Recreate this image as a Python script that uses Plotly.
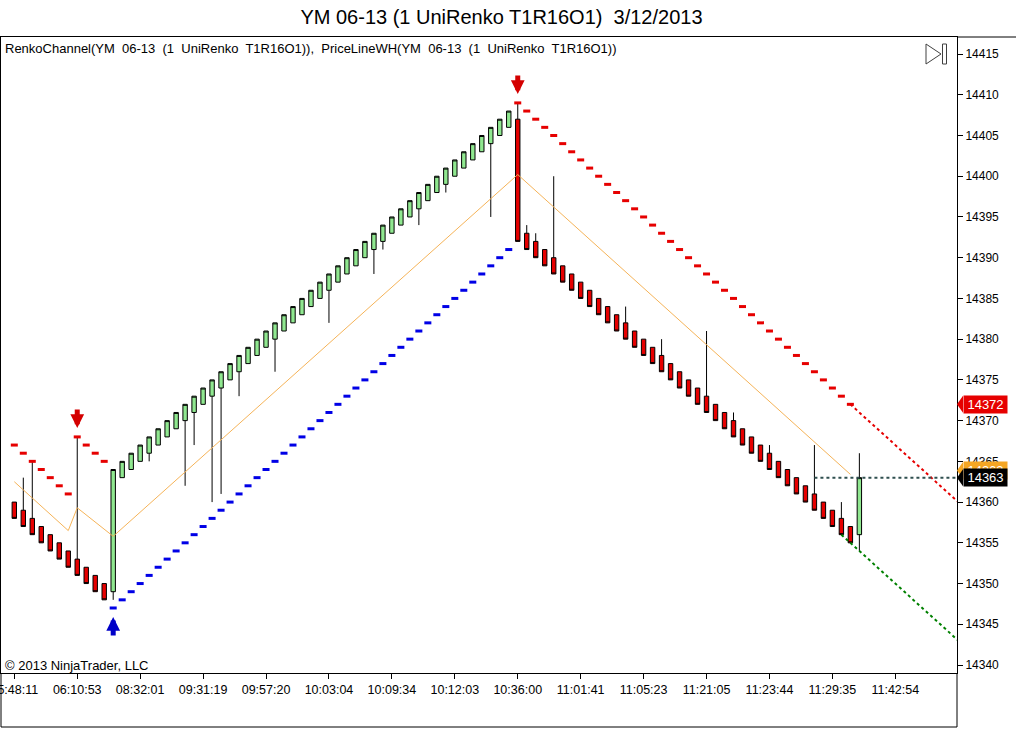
import plotly.graph_objects as go

# renko bricks: one brick per bar, the bar number is the x value
open_ = [14360, 14359, 14358, 14357, 14356, 14355, 14354, 14353, 14352, 14351, 14350,
         14349,
         14363, 14364, 14365, 14366, 14367, 14368, 14369, 14370, 14371, 14372, 14373,
         14374, 14375, 14376, 14377, 14378, 14379, 14380, 14381, 14382, 14383, 14384,
         14385, 14386, 14387, 14388, 14389, 14390, 14391, 14392, 14393, 14394, 14395,
         14396, 14397, 14398, 14399, 14400, 14401, 14402, 14403, 14404, 14405, 14406,
         14407,
         14393, 14392, 14391, 14390, 14389, 14388, 14387, 14386, 14385, 14384, 14383,
         14382, 14381, 14380, 14379, 14378, 14377, 14376, 14375, 14374, 14373, 14372,
         14371, 14370, 14369, 14368, 14367, 14366, 14365, 14364, 14363, 14362, 14361,
         14360, 14359, 14358, 14357,
         14356]
close = [14358, 14357, 14356, 14355, 14354, 14353, 14352, 14351, 14350, 14349, 14348,
         14364,
         14365, 14366, 14367, 14368, 14369, 14370, 14371, 14372, 14373, 14374, 14375,
         14376, 14377, 14378, 14379, 14380, 14381, 14382, 14383, 14384, 14385, 14386,
         14387, 14388, 14389, 14390, 14391, 14392, 14393, 14394, 14395, 14396, 14397,
         14398, 14399, 14400, 14401, 14402, 14403, 14404, 14405, 14406, 14407, 14408,
         14392,
         14391, 14390, 14389, 14388, 14387, 14386, 14385, 14384, 14383, 14382, 14381,
         14380, 14379, 14378, 14377, 14376, 14375, 14374, 14373, 14372, 14371, 14370,
         14369, 14368, 14367, 14366, 14365, 14364, 14363, 14362, 14361, 14360, 14359,
         14358, 14357, 14356, 14355,
         14363]

# wicks that stick out of the body (bar -> price)
wick_high = {1: 14363, 2: 14365, 7: 14368, 56: 14409, 57: 14394, 58: 14393, 60: 14400,
             68: 14384, 72: 14380, 77: 14381, 80: 14371, 84: 14367, 89: 14367, 92: 14360,
             94: 14366}
wick_low = {11: 14348, 15: 14365, 19: 14362, 20: 14367, 22: 14360, 23: 14361, 25: 14373,
            29: 14376, 35: 14382, 40: 14388, 41: 14391, 45: 14394, 48: 14398, 53: 14395,
            94: 14354}

# RenkoChannel
upper_channel = ([14367, 14366, 14365, 14364, 14363, 14362, 14361, 14368, 14367, 14366, 14365]
                 + [None] * 45
                 + [14409, 14408, 14407, 14406, 14405, 14404, 14403, 14402, 14401, 14400,
                    14399, 14398, 14397, 14396, 14395, 14394, 14393, 14392, 14391, 14390,
                    14389, 14388, 14387, 14386, 14385, 14384, 14383, 14382, 14381, 14380,
                    14379, 14378, 14377, 14376, 14375, 14374, 14373, 14372]
                 + [None])
lower_channel = ([None] * 11
                 + [14347, 14348, 14349, 14350, 14351, 14352, 14353, 14354, 14355, 14356,
                    14357, 14358, 14359, 14360, 14361, 14362, 14363, 14364, 14365, 14366,
                    14367, 14368, 14369, 14370, 14371, 14372, 14373, 14374, 14375, 14376,
                    14377, 14378, 14379, 14380, 14381, 14382, 14383, 14384, 14385, 14386,
                    14387, 14388, 14389, 14390, 14391]
                 + [None] * 39)
# channel projections past the last brick
upper_proj_bars = [93, 105]
upper_proj = [14372, 14360]
lower_proj_bars = [92, 105]
lower_proj = [14356, 14343]
sell_bars = [7, 56]
buy_bars = [11]

# PriceLineWH
pl_bars = [0, 6, 7, 11, 56, 93]
pl_values = [14362.5, 14356.5, 14359.3, 14355.8, 14400.2, 14363.4]
price_line_from = 89

tick_labels = ["05:48:11", "06:10:53", "08:32:01", "09:31:19", "09:57:20", "10:03:04",
               "10:09:34", "10:12:03", "10:36:00", "11:01:41", "11:05:23", "11:21:05",
               "11:23:44", "11:29:35", "11:42:54"]

bars = list(range(len(close)))
high = [wick_high.get(i, max(o, c)) for i, (o, c) in enumerate(zip(open_, close))]
low = [wick_low.get(i, min(o, c)) for i, (o, c) in enumerate(zip(open_, close))]

W, H = 1016, 729
L, R, T, B = 1, 59, 37, 56
y_range = [14339.02, 14417.09]
x_range = [-1.48, 104.86]
px_per_pt = (H - T - B) / (y_range[1] - y_range[0])
FONT = "Liberation Sans, Arial, sans-serif"


def px_x(px):
    return (px - L) / (W - L - R)


def px_y(py):
    return (H - B - py) / (H - T - B)


def dashes(values):
    xs, ys = [], []
    for i, v in enumerate(values):
        if v is None:
            continue
        xs += [i - 0.39, i + 0.39, None]
        ys += [v, v, None]
    return xs, ys


fig = go.Figure()

fig.add_trace(go.Scatter(x=pl_bars, y=pl_values, mode='lines',
                         line=dict(color='#F5B358', width=1)))

ux, uy = dashes(upper_channel)
fig.add_trace(go.Scatter(x=ux, y=uy, mode='lines', line=dict(color='#E60000', width=3)))
lx, ly = dashes(lower_channel)
fig.add_trace(go.Scatter(x=lx, y=ly, mode='lines', line=dict(color='#0000E6', width=3)))

fig.add_trace(go.Scatter(x=upper_proj_bars, y=upper_proj, mode='lines',
                         line=dict(color='#E60000', width=2, dash='dot')))
fig.add_trace(go.Scatter(x=lower_proj_bars, y=lower_proj, mode='lines',
                         line=dict(color='#008000', width=2, dash='dot')))
fig.add_trace(go.Scatter(x=[price_line_from, 105], y=[close[-1], close[-1]], mode='lines',
                         line=dict(color='#2F4F4F', width=2, dash='dot')))

fig.add_trace(go.Candlestick(
    x=bars, open=open_, high=high, low=low, close=close,
    increasing=dict(fillcolor='#90E890', line=dict(color='black', width=1)),
    decreasing=dict(fillcolor='#E60000', line=dict(color='black', width=1)),
    whiskerwidth=0))

# signal arrows
for b in sell_bars:
    fig.add_annotation(x=b, y=upper_channel[b], ax=0, ay=-29, text='', showarrow=True,
                       arrowhead=2, arrowsize=0.55, arrowwidth=5, arrowcolor='#D40000',
                       standoff=9)
for b in buy_bars:
    fig.add_annotation(x=b, y=lower_channel[b], ax=0, ay=29, text='', showarrow=True,
                       arrowhead=2, arrowsize=0.55, arrowwidth=5, arrowcolor='#0000C8',
                       standoff=9)


# price tags on the right axis
def price_tag(value, fill, text_color='white', shift=0):
    h = 8.5 / px_per_pt
    y = value + shift / px_per_pt
    tip = px_x(963)
    fig.add_shape(type='path', xref='paper', yref='y', layer='above',
                  path=f'M 1,{y} L {tip},{y + h} L {tip},{y - h} Z',
                  fillcolor=fill, line_width=0)
    fig.add_annotation(xref='paper', yref='y', x=tip, y=y, xanchor='left', yanchor='middle',
                       text=str(round(value)), showarrow=False, bgcolor=fill,
                       width=43, height=17, borderpad=0,
                       font=dict(family=FONT, size=13, color=text_color))


price_tag(upper_channel[93], '#E60000')
price_tag(pl_values[-1], '#F5A623', shift=4)
price_tag(close[-1], 'black')

# text
fig.add_annotation(xref='paper', yref='paper', x=px_x(3), y=px_y(39), xanchor='left',
                   yanchor='top', showarrow=False,
                   text='RenkoChannel(YM  06-13  (1  UniRenko  T1R16O1)),  '
                        'PriceLineWH(YM  06-13  (1  UniRenko  T1R16O1))',
                   font=dict(family=FONT, size=13, color='black'))
fig.add_annotation(xref='paper', yref='paper', x=px_x(3), y=px_y(675), xanchor='left',
                   yanchor='bottom', showarrow=False, text='© 2013 NinjaTrader, LLC',
                   font=dict(family=FONT, size=13, color='black'))

# "go to end" icon
fig.add_shape(type='path', xref='paper', yref='paper', line=dict(color='#404040', width=1),
              path=f'M {px_x(926)},{px_y(44)} L {px_x(941)},{px_y(54)} L {px_x(926)},{px_y(64)} Z')
fig.add_shape(type='rect', xref='paper', yref='paper', line=dict(color='#404040', width=1),
              x0=px_x(942.5), x1=px_x(946.5), y0=px_y(44), y1=px_y(64))

# outer frame around the axis strips
frame = [(1, 673, 1, 727), (1, 727, 957, 727), (957, 673, 957, 727), (957, 37, 1016, 37)]
for x0, y0, x1, y1 in frame:
    fig.add_shape(type='line', xref='paper', yref='paper', line=dict(color='black', width=1),
                  x0=px_x(x0), y0=px_y(y0), x1=px_x(x1), y1=px_y(y1))

fig.update_layout(
    width=W, height=H, margin=dict(l=L, r=R, t=T, b=B, autoexpand=False),
    paper_bgcolor='white', plot_bgcolor='white', showlegend=False,
    title=dict(text='YM 06-13 (1 UniRenko T1R16O1)  3/12/2013', xref='container',
               x=0.4936, xanchor='center', yref='container', y=1 - 17 / H, yanchor='middle',
               font=dict(family=FONT, size=20, color='black')),
    font=dict(family=FONT, color='black'),
    xaxis=dict(range=x_range, tickvals=[7 * i for i in range(len(tick_labels))],
               ticktext=tick_labels, ticks='outside', ticklen=5, tickcolor='black',
               showgrid=False, zeroline=False, showline=True, linecolor='black',
               linewidth=1, mirror=True, rangeslider=dict(visible=False),
               ticklabeloverflow='allow', automargin=False,
               tickfont=dict(family=FONT, size=12.5, color='black')),
    yaxis=dict(range=y_range, side='right', tick0=14340, dtick=5, tickformat='d',
               ticks='outside', ticklen=5, tickcolor='black', showgrid=False,
               zeroline=False, showline=True, linecolor='black', linewidth=1, mirror=True,
               automargin=False, tickfont=dict(family=FONT, size=12, color='black')),
)

# the page has a default 8px body margin; drop it so the chart sits at the corner
fig.write_html("out.html", config={'displayModeBar': False},
               post_script="document.body.style.margin = '0';")
